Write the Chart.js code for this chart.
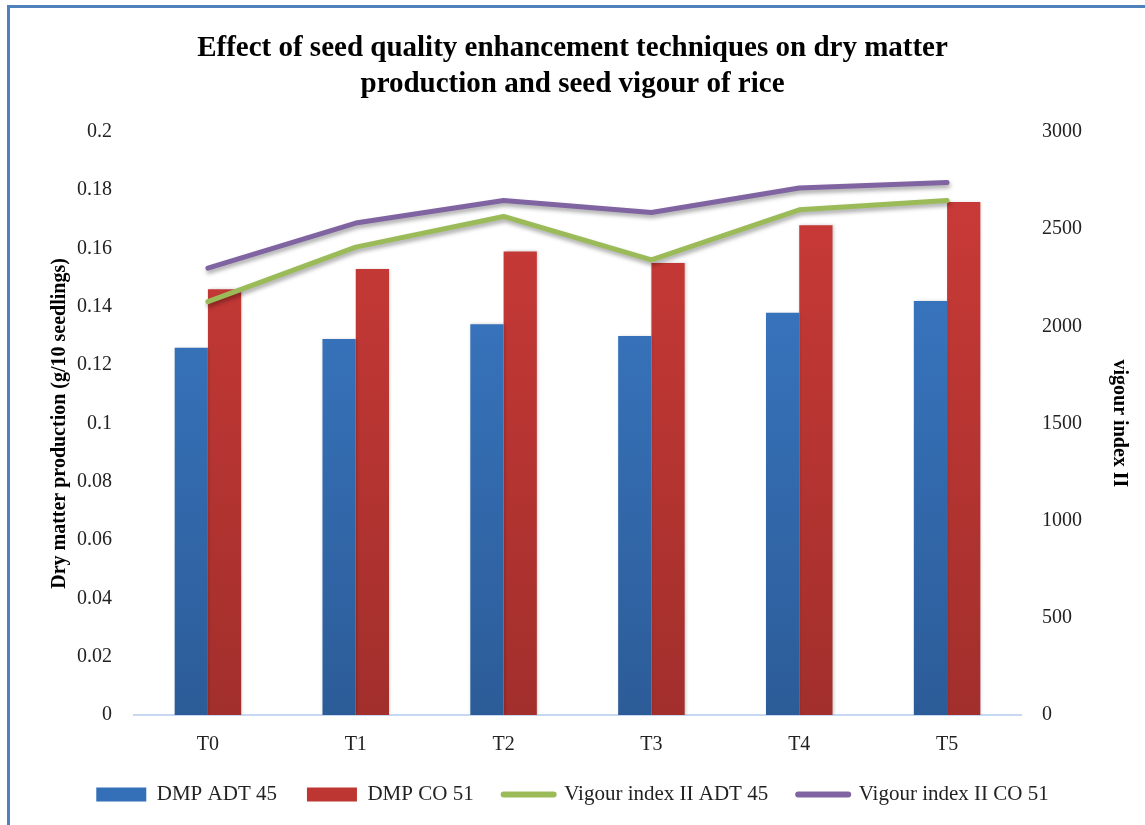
<!DOCTYPE html>
<html>
<head>
<meta charset="utf-8">
<script src="https://cdn.jsdelivr.net/npm/chart.js@4"></script>
<style>
  html, body { margin: 0; padding: 0; background: #fff; overflow: hidden; }
  #frame { position: absolute; left: 7px; top: 5px; width: 1160px; height: 840px; border: 3px solid #4f81bd; }
  #wrap { position: absolute; left: 0; top: 0; width: 1145px; height: 825px; }
</style>
</head>
<body>
<div id="frame"></div>
<div id="wrap"><canvas id="chart"></canvas></div>
<script>
// categories and series
const categories = ["T0", "T1", "T2", "T3", "T4", "T5"];
const dmpAdt45 = [0.126, 0.129, 0.134, 0.130, 0.138, 0.142];
const dmpCo51 = [0.146, 0.153, 0.159, 0.155, 0.168, 0.176];
const vigourAdt45 = [2127, 2407, 2565, 2342, 2599, 2647];
const vigourCo51 = [2299, 2531, 2647, 2585, 2711, 2740];
const seriesNames = ["DMP ADT 45", "DMP CO 51", "Vigour index II ADT 45", "Vigour index II CO 51"];

const serif = "'Liberation Serif', 'Times New Roman', serif";

//vertical gradient for bars, darker at bottom
const barGradient = (top, bottom) => (context) => {
  const area = context.chart.chartArea;
  if (!area) return top;
  const g = context.chart.ctx.createLinearGradient(0, area.top, 0, area.bottom);
  g.addColorStop(0, top);
  g.addColorStop(1, bottom);
  return g;
};

//soft shadow under bars and lines
const shadowPlugin = {
  id: "shadow",
  beforeDatasetDraw(chart, args) {
    const ctx = chart.ctx;
    ctx.save();
    const isLine = chart.data.datasets[args.index].type === "line";
    ctx.shadowColor = isLine ? "rgba(0,0,0,0.35)" : "rgba(0,0,0,0.2)";
    ctx.shadowBlur = isLine ? 4 : 3;
    ctx.shadowOffsetX = 1;
    ctx.shadowOffsetY = isLine ? 3 : 0;
  },
  afterDatasetDraw(chart) {
    chart.ctx.restore();
  }
};

const legendFill = ["#3470b8", "#bd3632", "#9bbb59", "#8064a2"];

new Chart(document.getElementById("chart"), {
  type: "bar",
  plugins: [shadowPlugin],
  data: {
    labels: categories,
    datasets: [
      {
        label: seriesNames[0],
        data: dmpAdt45,
        yAxisID: "y",
        backgroundColor: barGradient("#3c7dcb", "#2c5c98"),
        barPercentage: 1,
        categoryPercentage: 0.45,
        order: 2
      },
      {
        label: seriesNames[1],
        data: dmpCo51,
        yAxisID: "y",
        backgroundColor: barGradient("#cd3b38", "#a22f2c"),
        barPercentage: 1,
        categoryPercentage: 0.45,
        order: 2
      },
      {
        type: "line",
        label: seriesNames[2],
        data: vigourAdt45,
        yAxisID: "y1",
        borderColor: "#9bbb59",
        backgroundColor: "#9bbb59",
        borderWidth: 5,
        pointRadius: 0,
        tension: 0,
        borderCapStyle: "round",
        borderJoinStyle: "round",
        order: 1
      },
      {
        type: "line",
        label: seriesNames[3],
        data: vigourCo51,
        yAxisID: "y1",
        borderColor: "#8064a2",
        backgroundColor: "#8064a2",
        borderWidth: 5,
        pointRadius: 0,
        tension: 0,
        borderCapStyle: "round",
        borderJoinStyle: "round",
        order: 0
      }
    ]
  },
  options: {
    responsive: true,
    maintainAspectRatio: false,
    animation: false,
    layout: { padding: { left: 10, right: 10, top: 0, bottom: 10 } },
    plugins: {
      tooltip: { enabled: false },
      title: {
        display: true,
        text: ["Effect of seed quality enhancement techniques on dry matter", "production and seed vigour of rice"],
        color: "#000",
        font: { family: serif, size: 29, weight: "bold", lineHeight: 1.24 },
        padding: { top: 31, bottom: 29 }
      },
      legend: {
        position: "bottom",
        labels: {
          color: "#222",
          font: { family: serif, size: 21 },
          usePointStyle: true,
          pointStyleWidth: 50,
          boxHeight: 14,
          padding: 30,
          sort: (a, b) => a.datasetIndex - b.datasetIndex,
          generateLabels: (chart) => {
            const items = Chart.defaults.plugins.legend.labels.generateLabels(chart);
            return items.map((item) => {
              const i = item.datasetIndex;
              if (i < 2) {
                item.pointStyle = "rect";
                item.fillStyle = legendFill[i];
                item.strokeStyle = legendFill[i];
                item.lineWidth = 0;
              } else {
                item.pointStyle = "line";
                item.strokeStyle = legendFill[i];
                item.fillStyle = legendFill[i];
                item.lineWidth = 6;
                item.lineCap = "round";
              }
              return item;
            });
          }
        }
      }
    },
    scales: {
      x: {
        grid: { display: false },
        border: { display: true, color: "#c6d9f1", width: 2 },
        ticks: { color: "#222", font: { family: serif, size: 20 }, padding: 10 },
        afterFit: (axis) => { axis.height = 39; }
      },
      y: {
        position: "left",
        min: 0,
        max: 0.2,
        grid: { display: false },
        border: { display: false },
        ticks: {
          stepSize: 0.02,
          color: "#222",
          font: { family: serif, size: 20 },
          padding: 14,
          callback: (v) => String(+v.toFixed(2))
        },
        title: {
          display: true,
          text: "Dry matter production (g/10 seedlings)",
          color: "#000",
          font: { family: serif, size: 20, weight: "bold" },
          padding: { top: 38, bottom: 0 }
        },
        afterFit: (axis) => { axis.width = 124; }
      },
      y1: {
        position: "right",
        min: 0,
        max: 3000,
        grid: { display: false },
        border: { display: false },
        ticks: {
          stepSize: 500,
          color: "#222",
          font: { family: serif, size: 20 },
          padding: 13,
          callback: (v) => String(v)
        },
        title: {
          display: true,
          text: "vigour index II",
          color: "#000",
          font: { family: serif, size: 20, weight: "bold" },
          padding: { top: 4, bottom: 0 }
        },
        afterFit: (axis) => { axis.width = 114; }
      }
    }
  }
});
</script>
</body>
</html>
